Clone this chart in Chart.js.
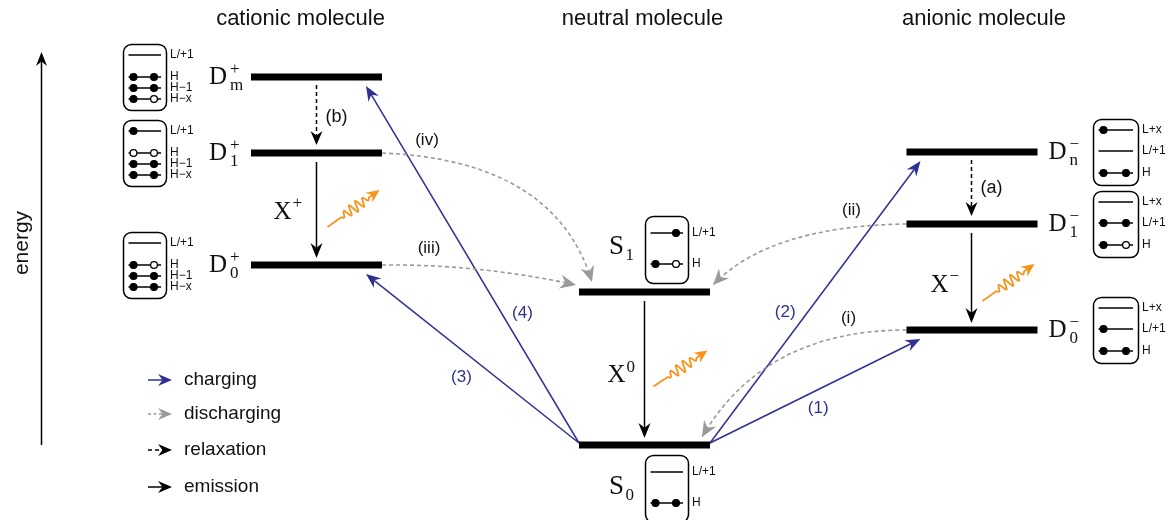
<!DOCTYPE html>
<html>
<head>
<meta charset="utf-8">
<script src="https://cdn.jsdelivr.net/npm/chart.js@4.4.1/dist/chart.umd.min.js"></script>
<style>
  html, body { margin: 0; padding: 0; background: #fff; }
  #wrap { width: 1170px; height: 520px; }
</style>
</head>
<body>
<div id="wrap"><canvas id="scheme" width="1170" height="520"></canvas></div>
<script>
// ---- energy level scheme ----
const levelKeys     = ['Dm+', 'D1+', 'D0+', 'S1', 'S0', 'Dn-', 'D1-', 'D0-'];
const levelEnergy   = [44.3, 36.7, 25.5, 22.8, 7.5, 36.8, 29.6, 19.0];
const levelSpecies  = [0, 0, 0, 1, 1, 2, 2, 2];
const levelSymbol   = ['D', 'D', 'D', 'S', 'S', 'D', 'D', 'D'];
const levelSub      = ['m', '1', '0', '1', '0', 'n', '1', '0'];
const levelSup      = ['+', '+', '+', '', '', '−', '−', '−'];
const speciesTitles = ['cationic molecule', 'neutral molecule', 'anionic molecule'];

// orbital diagrams: row names per species, occupancy per level ([left, right]: 0 none, 1 hole, 2 electron)
const orbitalLabels = [['L/+1', 'H', 'H−1', 'H−x'], ['L/+1', 'H'], ['L+x', 'L/+1', 'H']];
const occupancy = [
  [[0, 0], [2, 2], [2, 2], [2, 1]],
  [[2, 0], [1, 1], [2, 2], [2, 2]],
  [[0, 0], [2, 1], [2, 2], [2, 2]],
  [[0, 2], [2, 1]],
  [[0, 0], [2, 2]],
  [[2, 0], [0, 0], [2, 2]],
  [[0, 0], [2, 2], [2, 1]],
  [[0, 0], [2, 0], [2, 2]]
];

// transitions
const chargingFrom      = ['S0', 'S0', 'S0', 'S0'];
const chargingTo        = ['D0-', 'Dn-', 'D0+', 'Dm+'];
const chargingLabels    = ['(1)', '(2)', '(3)', '(4)'];
const dischargingFrom   = ['D0-', 'D1-', 'D0+', 'D1+'];
const dischargingTo     = ['S0', 'S1', 'S1', 'S1'];
const dischargingLabels = ['(i)', '(ii)', '(iii)', '(iv)'];
const relaxationFrom    = ['Dn-', 'Dm+'];
const relaxationTo      = ['D1-', 'D1+'];
const relaxationLabels  = ['(a)', '(b)'];
const emissionFrom      = ['D1+', 'S1', 'D1-'];
const emissionTo        = ['D0+', 'S0', 'D0-'];
const emissionSup       = ['+', '0', '−'];
const legendLabels      = ['charging', 'discharging', 'relaxation', 'emission'];

// ---- layout & style ----
const COL_X = [316.5, 644.5, 972];
const HALF_W = 65.5;
const BLUE = '#2e3192', GREY = '#9a9a9a', ORANGE = '#f7941d', INK = '#111';
const SANS = '"Liberation Sans", Arial, sans-serif';
const SERIF = '"Liberation Serif", "Times New Roman", serif';

const chargingLabelOffset    = [[3, 17], [-30, 10], [-11, 19], [50, 49]];
const dischargingLabelOffset = [[-58, -12], [-55, -14], [47, -17], [45, -13]];
const dischargingCtrl        = [[-142, 0], [-137, 2], [98, -1], [173, 7]];
const relaxationLabelOffset  = [[20, 0], [20, 2]];
const emissionLabelOffset    = [[-34, 2], [-28, 6], [-32, 7]];
const photonOffset           = [[11, 17, 63, -20], [9, 17, 63, -19], [11, 23, 63, -14]];
const boxGeom = [
  { x: 123, w: 43, h: 66, rows: [11, 33, 44, 55] },
  { x: 645, w: 43, h: 67, rows: [17, 48] },
  { x: 1093, w: 45, h: 66, rows: [11, 32, 54] }
];

const idx = k => levelKeys.indexOf(k);

const datasets = levelKeys.map((k, i) => ({
  type: 'line',
  label: k,
  data: [
    { x: COL_X[levelSpecies[i]] - HALF_W, y: levelEnergy[i] },
    { x: COL_X[levelSpecies[i]] + HALF_W, y: levelEnergy[i] }
  ],
  showLine: true,
  borderColor: '#000',
  borderWidth: 7,
  borderCapStyle: 'butt',
  pointRadius: 0,
  fill: false
}));

// ---- drawing helpers ----
function level(chart, k) {
  const i = idx(k), xs = chart.scales.x, ys = chart.scales.y, c = COL_X[levelSpecies[i]];
  return {
    x0: xs.getPixelForValue(c - HALF_W),
    x1: xs.getPixelForValue(c + HALF_W),
    xc: xs.getPixelForValue(c),
    y: ys.getPixelForValue(levelEnergy[i])
  };
}

function head(ctx, x, y, ang, color, len = 14, wid = 6) {
  ctx.save();
  ctx.translate(x, y);
  ctx.rotate(ang);
  ctx.beginPath();
  ctx.moveTo(0, 0);
  ctx.lineTo(-len, -wid);
  ctx.lineTo(-len * 0.68, 0);
  ctx.lineTo(-len, wid);
  ctx.closePath();
  ctx.fillStyle = color;
  ctx.fill();
  ctx.restore();
}

function arrow(ctx, x0, y0, x1, y1, color, dash, width = 1.5, len = 14, wid = 6) {
  const ang = Math.atan2(y1 - y0, x1 - x0);
  const ex = x1 - Math.cos(ang) * len * 0.6, ey = y1 - Math.sin(ang) * len * 0.6;
  ctx.save();
  ctx.beginPath();
  ctx.moveTo(x0, y0);
  ctx.lineTo(ex, ey);
  ctx.setLineDash(dash || []);
  ctx.strokeStyle = color;
  ctx.lineWidth = width;
  ctx.stroke();
  ctx.restore();
  head(ctx, x1, y1, ang, color, len, wid);
}

function curvedArrow(ctx, p0, c, p2, color) {
  ctx.save();
  ctx.beginPath();
  ctx.moveTo(p0[0], p0[1]);
  ctx.quadraticCurveTo(c[0], c[1], p2[0], p2[1]);
  ctx.setLineDash([4, 3]);
  ctx.strokeStyle = color;
  ctx.lineWidth = 1.6;
  ctx.stroke();
  ctx.restore();
  head(ctx, p2[0], p2[1], Math.atan2(p2[1] - c[1], p2[0] - c[0]), color, 16, 7);
}

function photon(ctx, sx, sy, tx, ty) {
  const dx = tx - sx, dy = ty - sy, len = Math.hypot(dx, dy);
  const ux = dx / len, uy = dy / len, nx = -uy, ny = ux;
  const headLen = 13, bodyEnd = len - headLen * 0.6;
  const w0 = 0.26 * len, w1 = 0.8 * len, cycles = 4.5, amp = 5.5;
  ctx.save();
  ctx.beginPath();
  for (let s = 0; s <= bodyEnd; s += 0.4) {
    let o = 0;
    if (s > w0 && s < w1) {
      const u = (s - w0) / (w1 - w0);
      o = amp * Math.pow(Math.sin(Math.PI * u), 0.6) * Math.sin(2 * Math.PI * cycles * u);
    }
    const x = sx + ux * s + nx * o, y = sy + uy * s + ny * o;
    if (s === 0) ctx.moveTo(x, y); else ctx.lineTo(x, y);
  }
  ctx.strokeStyle = ORANGE;
  ctx.lineWidth = 1.8;
  ctx.lineJoin = 'round';
  ctx.stroke();
  ctx.restore();
  head(ctx, tx, ty, Math.atan2(dy, dx), ORANGE, headLen, 6);
}

function text(ctx, s, x, y, font, color = INK, align = 'center') {
  ctx.save();
  ctx.font = font;
  ctx.fillStyle = color;
  ctx.textAlign = align;
  ctx.textBaseline = 'middle';
  ctx.fillText(s, x, y);
  ctx.restore();
}

function roundRect(ctx, x, y, w, h, r) {
  ctx.beginPath();
  ctx.moveTo(x + r, y);
  ctx.arcTo(x + w, y, x + w, y + h, r);
  ctx.arcTo(x + w, y + h, x, y + h, r);
  ctx.arcTo(x, y + h, x, y, r);
  ctx.arcTo(x, y, x + w, y, r);
  ctx.closePath();
}

function orbitalBox(ctx, i, lv) {
  const sp = levelSpecies[i], g = boxGeom[sp];
  let top;
  if (sp === 1) top = levelKeys[i] === 'S1' ? lv.y - 9 - g.h : lv.y + 10;
  else top = lv.y - g.h / 2;
  ctx.save();
  roundRect(ctx, g.x + 0.5, top + 0.5, g.w, g.h, 8);
  ctx.strokeStyle = '#000';
  ctx.lineWidth = 1.5;
  ctx.stroke();
  const lx0 = g.x + 5.5, lx1 = g.x + g.w - 5;
  const dots = [lx0 + 5, lx1 - 7];
  g.rows.forEach((ry, r) => {
    const y = top + ry;
    ctx.beginPath();
    ctx.moveTo(lx0, y);
    ctx.lineTo(lx1, y);
    ctx.lineWidth = 1.5;
    ctx.strokeStyle = '#000';
    ctx.stroke();
    occupancy[i][r].forEach((o, d) => {
      if (!o) return;
      ctx.beginPath();
      ctx.arc(dots[d], y, 3.4, 0, Math.PI * 2);
      ctx.fillStyle = o === 2 ? '#000' : '#fff';
      ctx.fill();
      ctx.lineWidth = 1.3;
      ctx.stroke();
    });
    text(ctx, orbitalLabels[sp][r], g.x + g.w + 4, y, '12px ' + SANS, INK, 'left');
  });
  ctx.restore();
}

function levelLabel(ctx, i, lv) {
  const sp = levelSpecies[i];
  let cx, cy = lv.y, subDy = 9, supDy = -7;
  if (sp === 0) cx = lv.x0 - 33;
  else if (sp === 2) cx = lv.x1 + 20;
  else {
    cx = lv.xc - 28;
    cy = levelKeys[i] === 'S1' ? lv.y - 45 : lv.y + 42;
  }
  const big = (sp === 1 ? 27 : 25) + 'px ' + SERIF;
  const small = '17px ' + SERIF;
  text(ctx, levelSymbol[i], cx, cy, big);
  const sx = cx + (sp === 1 ? 9 : 12);
  if (levelSup[i]) text(ctx, levelSup[i], sx, cy + supDy, small, INK, 'left');
  text(ctx, levelSub[i], sx, cy + subDy, small, INK, 'left');
}

const schemePlugin = {
  id: 'schemeDecor',
  beforeDatasetsDraw(chart) {
    const ctx = chart.ctx;

    // charging: neutral ground state to charged states
    chargingFrom.forEach((f, j) => {
      const a = level(chart, f), b = level(chart, chargingTo[j]);
      const toAnion = levelSpecies[idx(chargingTo[j])] === 2;
      const sx = toAnion ? a.x1 : a.x0, sy = a.y - 2;
      const tx = toAnion ? b.x0 + 14 : b.x1 - 16, ty = b.y + 9;
      arrow(ctx, sx, sy, tx, ty, BLUE, null, 1.5, 15, 6);
      const o = chargingLabelOffset[j];
      text(ctx, chargingLabels[j], (sx + tx) / 2 + o[0], (sy + ty) / 2 + o[1], '17px ' + SANS, BLUE);
    });

    // discharging: charged states back to neutral
    dischargingFrom.forEach((f, j) => {
      const a = level(chart, f), b = level(chart, dischargingTo[j]);
      const fromAnion = levelSpecies[idx(f)] === 2;
      const toGround = dischargingTo[j] === 'S0';
      const p0 = [fromAnion ? a.x0 : a.x1, a.y];
      let p2;
      if (fromAnion) p2 = toGround ? [b.x1 - 8, b.y - 8] : [b.x1 + 3, b.y - 7];
      else p2 = f === 'D1+' ? [b.x0 + 13, b.y - 10] : [b.x0 - 3, b.y - 7];
      const c = [p0[0] + dischargingCtrl[j][0], p0[1] + dischargingCtrl[j][1]];
      curvedArrow(ctx, p0, c, p2, GREY);
      const o = dischargingLabelOffset[j];
      text(ctx, dischargingLabels[j], p0[0] + o[0], p0[1] + o[1], '17px ' + SANS);
    });

    // relaxation within charged manifolds
    relaxationFrom.forEach((f, j) => {
      const a = level(chart, f), b = level(chart, relaxationTo[j]);
      const x = Math.round(a.xc) - 0.5;
      const y0 = a.y + 8, y1 = b.y - 8;
      arrow(ctx, x, y0, x, y1, '#000', [4, 3], 1.5, 14, 6);
      const o = relaxationLabelOffset[j];
      text(ctx, relaxationLabels[j], x + o[0], (y0 + y1) / 2 + o[1], '18px ' + SANS);
    });

    // radiative emission with photon
    emissionFrom.forEach((f, j) => {
      const a = level(chart, f), b = level(chart, emissionTo[j]);
      const x = Math.round(a.xc) - 0.5;
      const y0 = a.y + 9, y1 = b.y - 7;
      const mid = (y0 + y1) / 2;
      arrow(ctx, x, y0, x, y1, '#000', null, 1.5, 15, 6);
      const o = emissionLabelOffset[j];
      text(ctx, 'X', x + o[0], mid + o[1], '25px ' + SERIF);
      text(ctx, emissionSup[j], x + o[0] + 10, mid + o[1] - 8, '17px ' + SERIF, INK, 'left');
      const p = photonOffset[j];
      photon(ctx, x + p[0], mid + p[1], x + p[2], mid + p[3]);
    });
  },
  afterDatasetsDraw(chart) {
    const ctx = chart.ctx;
    const xs = chart.scales.x;

    // column titles
    speciesTitles.forEach((t, s) => {
      text(ctx, t, xs.getPixelForValue(COL_X[s]) + [-16, -2, 12][s], 19, '22px ' + SANS);
    });

    // energy axis
    arrow(ctx, 41.5, 445, 41.5, 52, '#000', null, 1.5, 14, 5.5);
    ctx.save();
    ctx.translate(22, 243);
    ctx.rotate(-Math.PI / 2);
    text(ctx, 'energy', 0, 0, '21px ' + SANS);
    ctx.restore();

    // level labels and orbital occupation boxes
    levelKeys.forEach((k, i) => {
      const lv = level(chart, k);
      levelLabel(ctx, i, lv);
      orbitalBox(ctx, i, lv);
    });

    // legend
    const styles = [
      { c: BLUE, d: null },
      { c: GREY, d: [3, 2.5] },
      { c: '#000', d: [4, 3] },
      { c: '#000', d: null }
    ];
    const rowsY = [380, 414, 450, 487];
    legendLabels.forEach((l, j) => {
      const st = styles[j];
      arrow(ctx, 148, rowsY[j], 172, rowsY[j], st.c, st.d, 1.5, 14, 6);
      text(ctx, l, 184, rowsY[j], '19px ' + SANS, INK, 'left');
    });
  }
};

new Chart(document.getElementById('scheme'), {
  type: 'scatter',
  data: { datasets },
  options: {
    responsive: false,
    devicePixelRatio: 1,
    animation: false,
    events: [],
    layout: { padding: 0 },
    scales: {
      x: { type: 'linear', min: 0, max: 1170, display: false },
      y: { type: 'linear', min: 0, max: 52, display: false }
    },
    plugins: { legend: { display: false }, tooltip: { enabled: false } }
  },
  plugins: [schemePlugin]
});
</script>
</body>
</html>
